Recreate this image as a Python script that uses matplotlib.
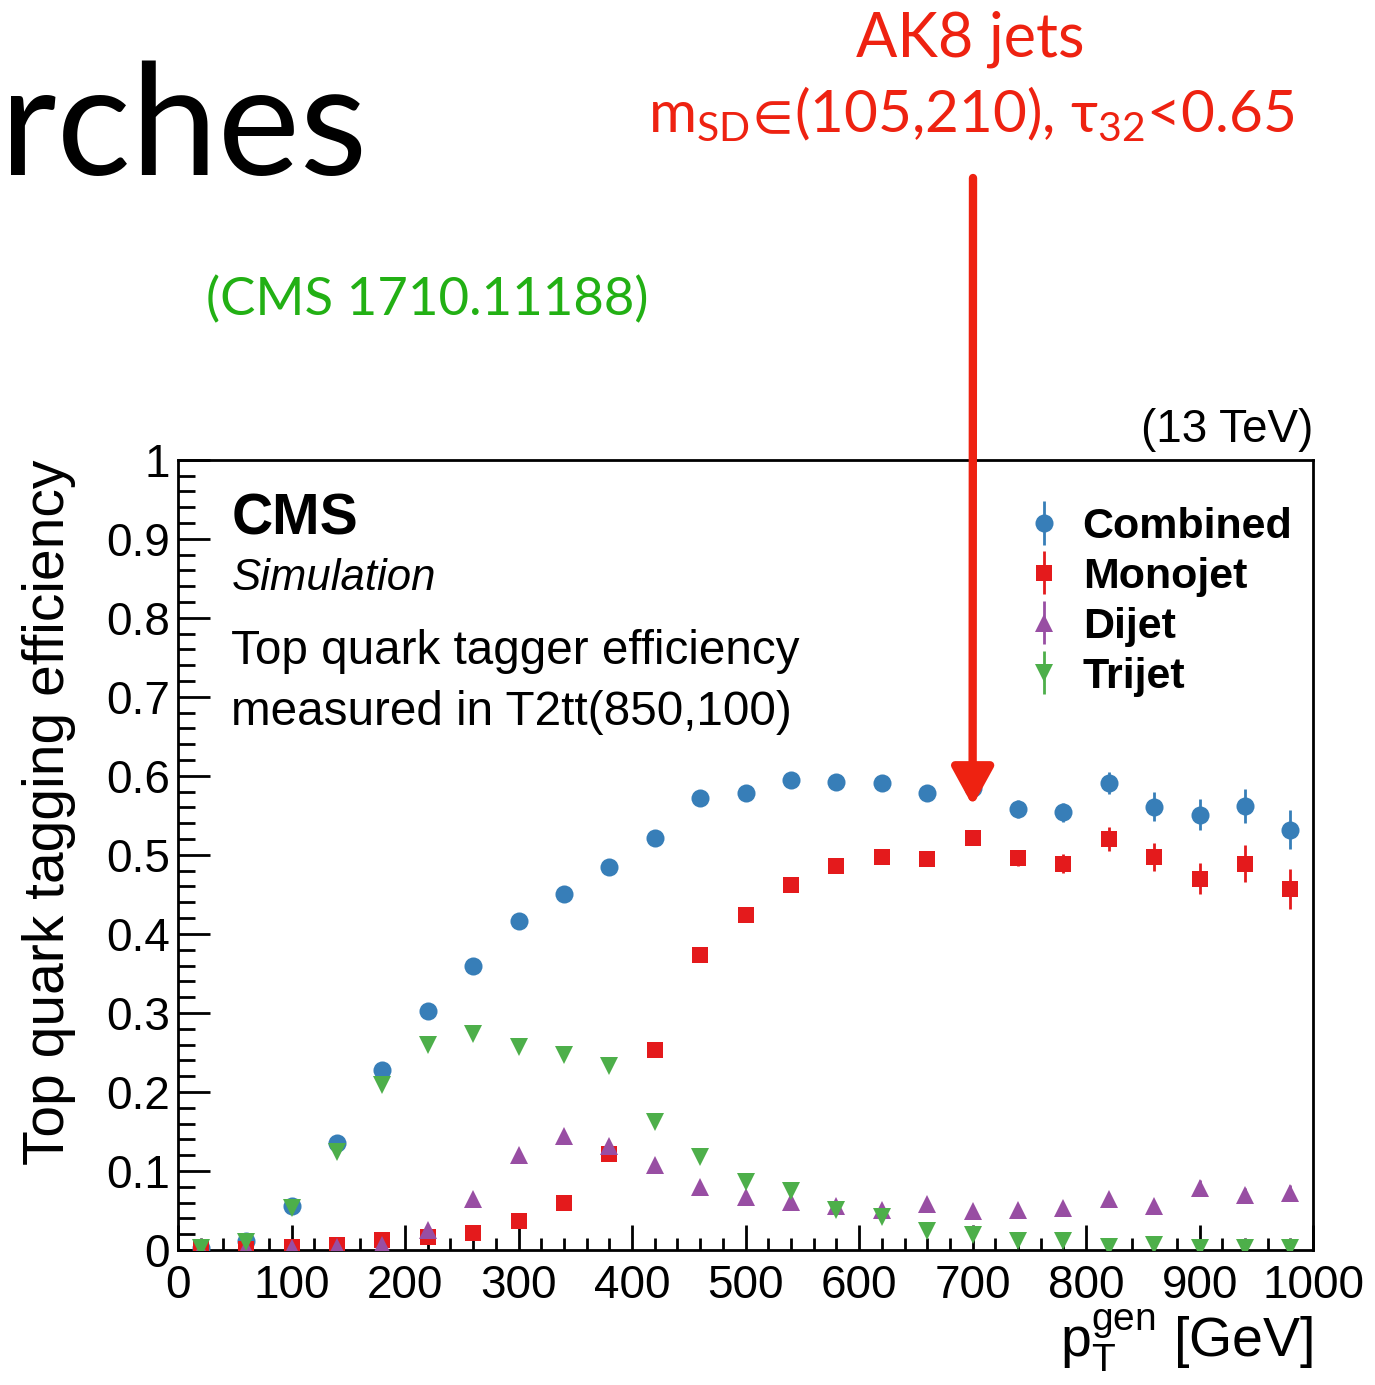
import matplotlib
matplotlib.use("Agg")
import matplotlib.pyplot as plt
from matplotlib.ticker import MultipleLocator, FuncFormatter

plt.rcParams['font.family'] = ['Liberation Sans', 'DejaVu Sans']
plt.rcParams['mathtext.fontset'] = 'custom'
plt.rcParams['mathtext.rm'] = 'Lato'
plt.rcParams['mathtext.it'] = 'Lato:italic'
plt.rcParams['mathtext.fallback'] = 'stixsans'

# bin centres in GeV
pt = [20, 60, 100, 140, 180, 220, 260, 300, 340, 380, 420, 460, 500,
      540, 580, 620, 660, 700, 740, 780, 820, 860, 900, 940, 980]

combined = [0.003, 0.011, 0.056, 0.136, 0.228, 0.303, 0.359, 0.416, 0.450, 0.485, 0.522, 0.572, 0.578,
            0.595, 0.592, 0.591, 0.578, 0.585, 0.558, 0.554, 0.591, 0.561, 0.551, 0.562, 0.532]
combined_err = [0.001, 0.002, 0.003, 0.004, 0.005, 0.005, 0.005, 0.005, 0.005, 0.006, 0.006, 0.006, 0.006,
                0.007, 0.007, 0.008, 0.008, 0.009, 0.011, 0.012, 0.014, 0.018, 0.020, 0.022, 0.025]

monojet = [0.001, 0.001, 0.004, 0.006, 0.012, 0.017, 0.022, 0.037, 0.059, 0.122, 0.253, 0.373, 0.424,
           0.462, 0.486, 0.497, 0.495, 0.521, 0.496, 0.489, 0.520, 0.497, 0.470, 0.489, 0.457]
monojet_err = [0.001, 0.001, 0.001, 0.002, 0.002, 0.003, 0.003, 0.004, 0.004, 0.005, 0.006, 0.006, 0.006,
               0.007, 0.007, 0.008, 0.008, 0.009, 0.010, 0.012, 0.015, 0.018, 0.020, 0.023, 0.025]

dijet = [0.000, 0.002, 0.002, 0.004, 0.006, 0.025, 0.064, 0.120, 0.144, 0.131, 0.108, 0.080, 0.067,
         0.061, 0.056, 0.051, 0.058, 0.049, 0.051, 0.053, 0.065, 0.056, 0.079, 0.070, 0.072]
dijet_err = [0.001, 0.001, 0.001, 0.001, 0.002, 0.002, 0.003, 0.003, 0.003, 0.003, 0.003, 0.003, 0.003,
             0.003, 0.003, 0.003, 0.004, 0.004, 0.004, 0.005, 0.006, 0.006, 0.010, 0.009, 0.010]

trijet = [0.002, 0.010, 0.053, 0.124, 0.209, 0.260, 0.273, 0.257, 0.247, 0.233, 0.162, 0.118, 0.086,
          0.074, 0.050, 0.042, 0.024, 0.019, 0.011, 0.011, 0.004, 0.006, 0.003, 0.003, 0.002]
trijet_err = [0.001, 0.002, 0.003, 0.004, 0.004, 0.005, 0.005, 0.005, 0.005, 0.005, 0.004, 0.004, 0.003,
              0.003, 0.003, 0.003, 0.002, 0.002, 0.002, 0.002, 0.001, 0.002, 0.001, 0.001, 0.001]

BLUE, RED, PURPLE, GREEN = '#377eb8', '#e41a1c', '#984ea3', '#4daf4a'
SLIDE_RED, SLIDE_GREEN = '#ee2211', '#22b014'

fig = plt.figure(figsize=(13.75, 13.85), dpi=100)
ax = fig.add_axes([0.1295, 0.0975, 0.8255, 0.5705])

series = [
    (combined, combined_err, 'o', BLUE, 'Combined', 13),
    (monojet, monojet_err, 's', RED, 'Monojet', 12),
    (dijet, dijet_err, '^', PURPLE, 'Dijet', 13),
    (trijet, trijet_err, 'v', GREEN, 'Trijet', 13),
]
handles = []
for y, err, mk, col, lab, ms in series:
    h = ax.errorbar(pt, y, yerr=err, fmt=mk, color=col, ms=ms, mew=0,
                    elinewidth=2, capsize=4, capthick=2, label=lab, zorder=3)
    handles.append(h)

ax.set_xlim(0, 1000)
ax.set_ylim(0, 1)
ax.xaxis.set_major_locator(MultipleLocator(100))
ax.xaxis.set_minor_locator(MultipleLocator(20))
ax.yaxis.set_major_locator(MultipleLocator(0.1))
ax.yaxis.set_minor_locator(MultipleLocator(0.02))
ax.yaxis.set_major_formatter(FuncFormatter(lambda v, p: '%g' % round(v, 2)))
ax.tick_params(axis='both', which='both', direction='in', width=2,
               labelsize=33, top=False, right=False)
ax.tick_params(axis='y', which='major', length=23, pad=6)
ax.tick_params(axis='y', which='minor', length=12)
ax.tick_params(axis='x', which='major', length=18, pad=10)
ax.tick_params(axis='x', which='minor', length=9)
for s in ax.spines.values():
    s.set_linewidth(2)

ax.set_ylabel('Top quark tagging efficiency', fontsize=41, loc='top')
ax.yaxis.set_label_coords(-0.09, 1.0)
ax.set_xlabel(r'p$_{\mathregular{T}}^{\mathregular{gen}}$ [GeV]', fontsize=40, loc='right')
ax.xaxis.set_label_coords(1.0, -0.072)
ax.xaxis.label.set_math_fontfamily('dejavusans')

ax.text(1.0, 1.01, '(13 TeV)', transform=ax.transAxes, ha='right', va='bottom', fontsize=33)
ax.text(0.047, 0.925, 'CMS', transform=ax.transAxes, ha='left', va='center',
        fontsize=41, fontweight='bold')
ax.text(0.047, 0.85, 'Simulation', transform=ax.transAxes, ha='left', va='center',
        fontsize=31.5, fontstyle='italic')
ax.text(0.047, 0.757, 'Top quark tagger efficiency', transform=ax.transAxes, ha='left',
        va='center', fontsize=34.3)
ax.text(0.047, 0.68, 'measured in T2tt(850,100)', transform=ax.transAxes, ha='left',
        va='center', fontsize=34.3)

leg = ax.legend(handles=handles, loc='upper right', bbox_to_anchor=(0.997, 0.962),
                frameon=False, prop={'size': 31, 'weight': 'bold'},
                handlelength=0.8, handletextpad=0.5, labelspacing=0.23, borderaxespad=0)

# slide annotations
fig.text(0.0, 0.905, 'rches', fontsize=112, family='Lato', ha='left', va='center')
fig.text(0.706, 0.972, 'AK8 jets', fontsize=44, family='Lato', color=SLIDE_RED,
         ha='center', va='center')
fig.text(0.706, 0.918, r'm$_{\mathregular{SD}}\!\in\!$(105,210), τ$_{\mathregular{32}}$<0.65',
         fontsize=42, family='Lato', color=SLIDE_RED, ha='center', va='center')
fig.text(0.311, 0.783, '(CMS 1710.11188)', fontsize=38, family='Lato', color=SLIDE_GREEN,
         ha='center', va='center')

ax.annotate('', xy=(700, 0.562), xycoords='data',
            xytext=(973, 1385 - 178), textcoords='figure pixels',
            arrowprops=dict(arrowstyle='-|>,head_length=2.3,head_width=1.26',
                            mutation_scale=10, lw=6, color=SLIDE_RED,
                            shrinkA=0, shrinkB=0),
            annotation_clip=False, zorder=10)

fig.savefig('out.png', dpi=100)
